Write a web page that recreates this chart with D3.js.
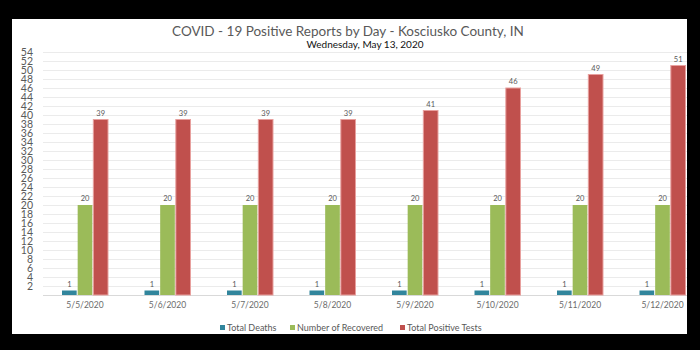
<!DOCTYPE html>
<html>
<head>
  <meta charset="utf-8">
  <script src="https://cdn.jsdelivr.net/npm/d3@7/dist/d3.min.js"></script>
  <style>
    body { margin: 0; background: #000; }
    svg { display: block; }
    text { font-family: "Lato", "Open Sans", sans-serif; }
  </style>
</head>
<body>
<svg id="chart" width="700" height="350"></svg>
<script>
  // data
  var days = ['5/5/2020', '5/6/2020', '5/7/2020', '5/8/2020', '5/9/2020', '5/10/2020', '5/11/2020', '5/12/2020'];
  var seriesNames = ['Total Deaths', 'Number of Recovered', 'Total Positive Tests'];
  var deaths = [1, 1, 1, 1, 1, 1, 1, 1];
  var recovered = [20, 20, 20, 20, 20, 20, 20, 20];
  var positive = [39, 39, 39, 39, 41, 46, 49, 51];
  var yTicks = d3.range(2, 55, 2);

  var colors = ['#31859c', '#9bbb59', '#c0504d'];
  var strokes = ['none', 'none', '#e8a09e'];

  var svg = d3.select('#chart');

  // white panel inside the black frame
  var panel = { x: 12, y: 19, w: 675, h: 315 };
  svg.append('clipPath').attr('id', 'clip')
    .append('rect').attr('x', panel.x).attr('y', panel.y).attr('width', panel.w).attr('height', panel.h);
  svg.append('rect').attr('x', panel.x).attr('y', panel.y).attr('width', panel.w).attr('height', panel.h)
    .attr('fill', '#fff');

  var g = svg.append('g').attr('clip-path', 'url(#clip)');

  var x = d3.scaleBand().domain(days).range([43.75, 703.75]);
  var xs = d3.scaleBand().domain(seriesNames).range([0, 47]);
  var y = d3.scaleLinear().domain([0, 54]).range([295, 52]);

  // gridlines
  g.selectAll('.grid').data(yTicks).enter().append('line')
    .attr('x1', 43).attr('x2', 704)
    .attr('y1', d => Math.round(y(d)) + 0.5).attr('y2', d => Math.round(y(d)) + 0.5)
    .attr('stroke', '#ebebeb').attr('stroke-width', 1);
  g.append('line').attr('x1', 43).attr('x2', 704)
    .attr('y1', Math.round(y(0)) + 0.5).attr('y2', Math.round(y(0)) + 0.5)
    .attr('stroke', '#d9d9d9');

  // y tick labels (tightly packed, as in the original)
  svg.selectAll('.ytick').data(yTicks).enter().append('text')
    .attr('x', 33).attr('y', d => y(d) + 3.5)
    .attr('text-anchor', 'end').attr('font-size', 10.5).attr('fill', '#595959')
    .text(d => d);

  var series = [deaths, recovered, positive];
  var rows = [];
  series.forEach((vals, si) => {
    vals.forEach((v, i) => rows.push({ day: days[i], s: si, v: v }));
  });

  var bars = g.selectAll('.bar').data(rows).enter().append('g')
    .attr('transform', d => 'translate(' + (x(d.day) + x.bandwidth() / 2 - 23.5 + xs(seriesNames[d.s])) + ',0)');

  bars.append('rect')
    .attr('x', 0.5).attr('width', xs.bandwidth() - 1)
    .attr('y', d => y(d.v)).attr('height', d => y(0) - y(d.v))
    .attr('fill', d => colors[d.s])
    .attr('stroke', d => strokes[d.s]).attr('stroke-width', 1);

  bars.append('text')
    .attr('x', xs.bandwidth() / 2).attr('y', d => y(d.v) - 4)
    .attr('text-anchor', 'middle').attr('font-size', 7.5).attr('fill', '#595959')
    .text(d => d.v);

  // x labels
  g.selectAll('.xlab').data(days).enter().append('text')
    .attr('x', d => x(d) + x.bandwidth() / 2).attr('y', 308)
    .attr('text-anchor', 'middle').attr('font-size', 8.5).attr('fill', '#6b6b6b')
    .text(d => d);

  // titles
  svg.append('text').attr('x', 348).attr('y', 36).attr('text-anchor', 'middle')
    .attr('font-size', 13.5).attr('fill', '#595959')
    .text('COVID - 19 Positive Reports by Day - Kosciusko County, IN');
  svg.append('text').attr('x', 365).attr('y', 48).attr('text-anchor', 'middle')
    .attr('font-size', 10).attr('fill', '#111')
    .text('Wednesday, May 13, 2020');

  // legend
  var legX = [220, 290, 400];
  var leg = svg.selectAll('.leg').data(seriesNames).enter().append('g')
    .attr('transform', (d, i) => 'translate(' + legX[i] + ',328)');
  leg.append('rect').attr('x', 0).attr('y', -3).attr('width', 5).attr('height', 5)
    .attr('fill', (d, i) => colors[i]);
  leg.append('text').attr('x', 7).attr('y', 3).attr('font-size', 9).attr('fill', '#595959')
    .text(d => d);
</script>
</body>
</html>
